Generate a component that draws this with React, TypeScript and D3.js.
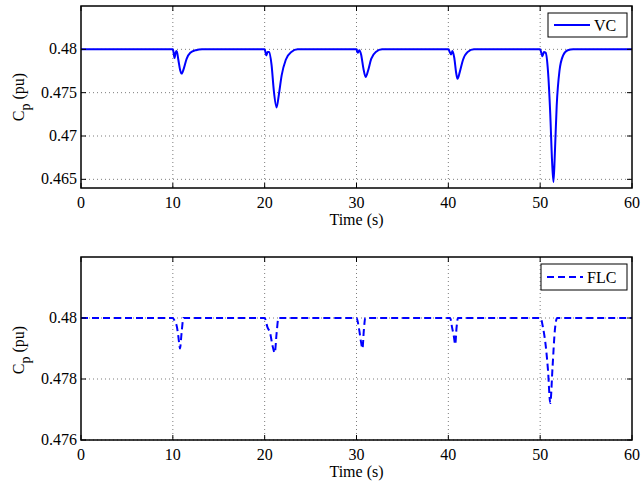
import React, { useEffect, useRef } from "react";
import * as d3 from "d3";

// time (s), Cp (pu) for the VC controller
const vcTime = [
  0, 10.0, 10.1, 10.18, 10.3, 10.42, 10.6, 10.8, 10.97, 11.2, 11.5, 11.9, 12.5, 13.2,
  20.0, 20.1, 20.18, 20.32, 20.5, 20.75, 21.0, 21.3, 21.55, 21.85, 22.3, 22.9, 23.6,
  30.0, 30.08, 30.15, 30.3, 30.5, 30.75, 31.0, 31.25, 31.6, 32.1, 32.8,
  40.0, 40.15, 40.3, 40.45, 40.65, 40.85, 41.0, 41.25, 41.6, 42.1, 42.8,
  50.0, 50.12, 50.25, 50.4, 50.6, 50.85, 51.1, 51.3, 51.45, 51.6, 51.8, 52.1, 52.5, 53.0, 53.6, 60,
];
const vcCp = [
  0.48, 0.48, 0.4795, 0.479, 0.4796, 0.4798, 0.4788, 0.4776, 0.4772, 0.4778, 0.4789, 0.4796, 0.4799, 0.48,
  0.48, 0.4796, 0.4793, 0.4797, 0.4797, 0.4782, 0.4752, 0.4733, 0.4748, 0.477, 0.4788, 0.4797, 0.48,
  0.48, 0.4797, 0.4796, 0.4799, 0.4794, 0.4778, 0.4768, 0.4775, 0.4789, 0.4797, 0.48,
  0.48, 0.4797, 0.4794, 0.4798, 0.479, 0.4773, 0.4766, 0.4774, 0.4788, 0.4797, 0.48,
  0.48, 0.4796, 0.4792, 0.4797, 0.4796, 0.4775, 0.4725, 0.467, 0.4647, 0.468, 0.4735, 0.4775, 0.4793, 0.4799, 0.48, 0.48,
];

// time (s), Cp (pu) for the FLC controller
const flcTime = [
  0, 10.0, 10.2, 10.45, 10.6, 10.78, 10.95, 11.15,
  20.0, 20.3, 20.6, 20.85, 21.1, 21.3, 21.5,
  30.0, 30.3, 30.5, 30.65, 30.8, 30.95,
  40.2, 40.4, 40.6, 40.75, 40.9, 41.05,
  50.05, 50.3, 50.6, 50.85, 51.1, 51.35, 51.6, 51.85, 60,
];
const flcCp = [
  0.48, 0.48, 0.4799, 0.4797, 0.4794, 0.479, 0.4795, 0.48,
  0.48, 0.4797, 0.4795, 0.4791, 0.47886, 0.4795, 0.48,
  0.48, 0.4796, 0.4792, 0.479, 0.4796, 0.48,
  0.48, 0.4797, 0.4794, 0.47913, 0.4797, 0.48,
  0.48, 0.4797, 0.4791, 0.4783, 0.47721, 0.4784, 0.4796, 0.48, 0.48,
];

const xTicks = [0, 10, 20, 30, 40, 50, 60];
const topTicks = [0.465, 0.47, 0.475, 0.48];
const bottomTicks = [0.476, 0.478, 0.48];

const W = 644;
const H = 482;
const FONT = "Liberation Serif, Times New Roman, serif";

const App = () => {
  const ref = useRef<SVGSVGElement>(null);

  useEffect(() => {
    const svg = d3.select(ref.current);
    svg.selectAll("*").remove();

    const panel = (opts) => {
      const { top, bottom, domain, ticks, times, values, dash, label, legend } = opts;
      const left = 81, right = 632;
      const x = d3.scaleLinear().domain([0, 60]).range([left, right]);
      const y = d3.scaleLinear().domain(domain).range([bottom, top]);
      const g = svg.append("g");

      // grid
      g.selectAll(".gx").data(xTicks.slice(1, -1)).join("line")
        .attr("x1", d => x(d)).attr("x2", d => x(d))
        .attr("y1", top).attr("y2", bottom)
        .attr("stroke", "#444").attr("stroke-width", 0.7).attr("stroke-dasharray", "1,3");
      g.selectAll(".gy").data(ticks).join("line")
        .attr("x1", left).attr("x2", right)
        .attr("y1", d => y(d)).attr("y2", d => y(d))
        .attr("stroke", "#444").attr("stroke-width", 0.7).attr("stroke-dasharray", "1,3");

      // data line
      const pts = times.map((t, i) => [t, values[i]]);
      const line = d3.line().x(d => x(d[0])).y(d => y(d[1])).curve(d3.curveMonotoneX);
      g.append("path").attr("d", line(pts)).attr("fill", "none")
        .attr("stroke", "#0000ff").attr("stroke-width", 2)
        .attr("stroke-dasharray", dash ? "7,4" : null);

      // box
      g.append("rect").attr("x", left).attr("y", top)
        .attr("width", right - left).attr("height", bottom - top)
        .attr("fill", "none").attr("stroke", "#000").attr("stroke-width", 1.5);

      // inward ticks
      xTicks.forEach(t => {
        g.append("line").attr("x1", x(t)).attr("x2", x(t)).attr("y1", bottom).attr("y2", bottom - 5).attr("stroke", "#000");
        g.append("line").attr("x1", x(t)).attr("x2", x(t)).attr("y1", top).attr("y2", top + 5).attr("stroke", "#000");
        g.append("text").attr("x", x(t)).attr("y", bottom + 20)
          .attr("text-anchor", "middle").attr("font-family", FONT).attr("font-size", 16).text(t);
      });
      ticks.forEach(t => {
        g.append("line").attr("x1", left).attr("x2", left + 5).attr("y1", y(t)).attr("y2", y(t)).attr("stroke", "#000");
        g.append("line").attr("x1", right).attr("x2", right - 5).attr("y1", y(t)).attr("y2", y(t)).attr("stroke", "#000");
        g.append("text").attr("x", left - 4).attr("y", y(t) + 5)
          .attr("text-anchor", "end").attr("font-family", FONT).attr("font-size", 16).text(d3.format("")(t));
      });

      // axis labels
      g.append("text").attr("x", (left + right) / 2).attr("y", bottom + 37)
        .attr("text-anchor", "middle").attr("font-family", FONT).attr("font-size", 16).text("Time (s)");
      const yl = g.append("text").attr("transform", `translate(24, ${label}) rotate(-90)`)
        .attr("text-anchor", "middle").attr("font-family", FONT).attr("font-size", 16);
      yl.append("tspan").text("C");
      yl.append("tspan").attr("dy", 6).attr("font-size", 14).text("p");
      yl.append("tspan").attr("dy", -6).text(" (pu)");

      // legend
      const [lx, ly, lw, lh, name] = legend;
      g.append("rect").attr("x", lx).attr("y", ly).attr("width", lw).attr("height", lh)
        .attr("fill", "#fff").attr("stroke", "#000").attr("stroke-width", 1);
      g.append("line").attr("x1", lx + 6).attr("x2", lx + 42).attr("y1", ly + lh / 2).attr("y2", ly + lh / 2)
        .attr("stroke", "#0000ff").attr("stroke-width", 2).attr("stroke-dasharray", dash ? "7,4" : null);
      g.append("text").attr("x", lx + 46).attr("y", ly + lh / 2 + 6)
        .attr("font-family", FONT).attr("font-size", 16).text(name);
    };

    panel({
      top: 6, bottom: 188, domain: [0.464, 0.485], ticks: topTicks,
      times: vcTime, values: vcCp, dash: false, label: 97,
      legend: [548, 13, 79, 24, "VC"],
    });
    panel({
      top: 257, bottom: 440, domain: [0.476, 0.482], ticks: bottomTicks,
      times: flcTime, values: flcCp, dash: true, label: 350,
      legend: [541, 264, 86, 26, "FLC"],
    });
  }, []);

  return (
    <svg ref={ref} width={W} height={H}
      style={{ position: "absolute", left: 0, top: 0, background: "#fff" }} />
  );
};

export default App;
